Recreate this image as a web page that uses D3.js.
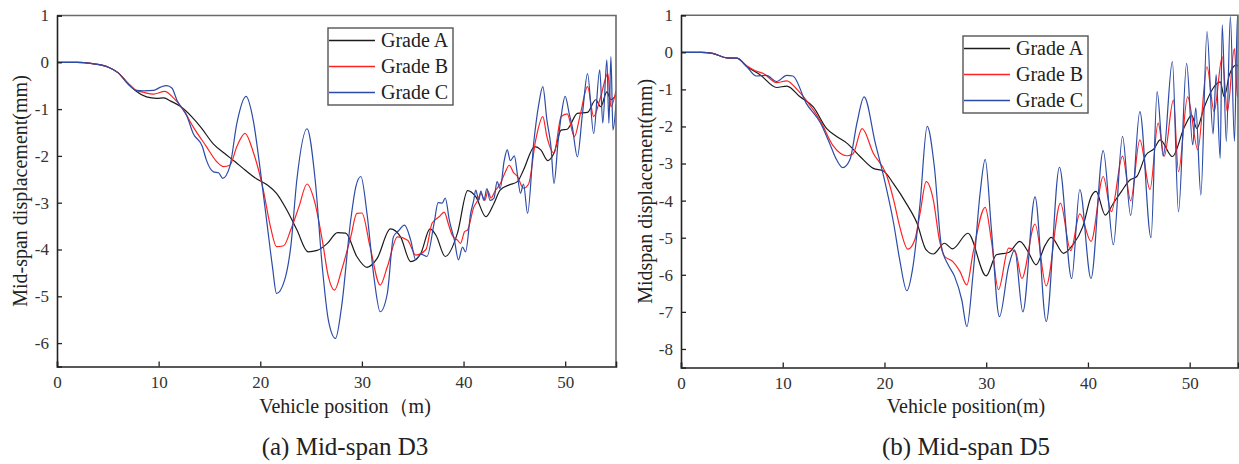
<!DOCTYPE html>
<html>
<head>
<meta charset="utf-8">
<script src="https://cdn.jsdelivr.net/npm/d3@7"></script>
<style>
  body { margin: 0; background: #fff; }
  svg { display: block; font-family: "Liberation Serif", "Times New Roman", serif; }
</style>
</head>
<body>
<svg id="chart" width="1239" height="464"></svg>
<script>
const seriesNames = ["Grade A", "Grade B", "Grade C"];
const seriesColors = ["#1a1a1a", "#ff2222", "#2b4ba6"];

// (a) mid-span D3, [vehicle position m, displacement mm]
const d3GradeA = [[0,0],[2,0],[3.5,-0.03],[5,-0.1],[6,-0.22],[7,-0.45],[7.8,-0.62],[8.8,-0.74],[9.8,-0.77],[10.5,-0.76],[11.2,-0.83],[12.2,-0.95],[13.2,-1.15],[14.2,-1.4],[15.4,-1.75],[16.5,-1.95],[17.5,-2.12],[18.5,-2.3],[19.7,-2.5],[20.7,-2.62],[21.6,-2.8],[22.6,-3.15],[23.6,-3.58],[24.7,-4.05],[25.6,-4.02],[26.6,-3.87],[27.6,-3.64],[28.4,-3.65],[29.5,-4.15],[30.5,-4.38],[31.5,-4.19],[32.8,-3.56],[33.8,-3.73],[34.8,-4.26],[35.8,-4.08],[36.7,-3.56],[37.3,-3.7],[38.2,-4.15],[39.4,-3.65],[40.4,-2.74],[41.2,-2.87],[42.2,-3.3],[43,-3.01],[43.6,-2.73],[44.5,-2.62],[45.3,-2.55],[45.9,-2.3],[47,-1.8],[47.6,-1.87],[48.3,-2.1],[48.9,-1.94],[49.6,-1.45],[50.2,-1.43],[51.2,-1.09],[52.2,-1.07],[53,-0.8],[53.5,-0.95],[54.1,-0.63],[54.5,-0.8],[55,-0.7]];
const d3GradeB = [[0,0],[2,0],[3.5,-0.03],[5,-0.1],[6,-0.22],[7,-0.45],[7.8,-0.6],[8.5,-0.64],[9.5,-0.68],[10.6,-0.62],[11.5,-0.77],[12.4,-1.0],[13.4,-1.38],[14.7,-1.8],[15.7,-2.12],[16.4,-2.23],[17,-2.2],[17.7,-1.8],[18.5,-1.52],[19.3,-1.91],[20.3,-2.73],[21,-3.51],[21.6,-3.94],[22.3,-3.92],[23,-3.58],[23.8,-3.09],[24.6,-2.6],[25.3,-2.94],[26.1,-3.8],[26.7,-4.58],[27.3,-4.87],[28,-4.44],[28.9,-3.73],[29.5,-3.23],[30,-3.22],[30.8,-3.94],[31.8,-4.76],[32.5,-4.37],[33.5,-3.73],[34.5,-3.8],[35.3,-4.12],[36.3,-4.0],[36.9,-3.44],[37.6,-3.3],[38.1,-3.2],[38.5,-3.45],[38.9,-3.7],[39.4,-3.8],[39.7,-3.87],[40.1,-3.62],[40.4,-3.58],[41,-3.1],[41.4,-2.95],[41.7,-2.8],[42.1,-2.95],[42.4,-2.75],[42.7,-2.9],[43.1,-2.75],[43.6,-2.6],[44.1,-2.35],[44.5,-2.2],[44.9,-2.35],[45.3,-2.44],[45.9,-2.69],[46.4,-2.6],[47.1,-1.66],[47.8,-1.16],[48.2,-1.59],[48.9,-1.94],[49.6,-1.16],[50.2,-1.1],[50.9,-1.59],[51.5,-1.1],[52.2,-0.52],[52.8,-1.16],[53.5,-0.73],[54.2,-0.24],[54.5,-0.95],[55,-0.6]];
const d3GradeC = [[0,0],[2,0],[3.5,-0.03],[5,-0.1],[6,-0.22],[7,-0.47],[7.8,-0.6],[8.5,-0.61],[9.5,-0.6],[10.2,-0.53],[10.8,-0.5],[11.3,-0.55],[11.8,-0.81],[12.8,-1.16],[13.4,-1.52],[14.3,-1.8],[14.7,-2.09],[15.4,-2.34],[15.9,-2.36],[16.3,-2.48],[17,-2.23],[17.7,-1.3],[18.6,-0.73],[19.3,-1.23],[20,-2.3],[20.7,-3.51],[21.2,-4.37],[21.6,-4.94],[22.4,-4.65],[23,-3.94],[23.6,-2.51],[24.6,-1.42],[25.4,-2.51],[26.1,-4.37],[26.7,-5.51],[27.4,-5.9],[28,-5.22],[28.9,-3.37],[29.4,-2.66],[29.9,-2.44],[30.5,-3.23],[31.2,-4.62],[31.8,-5.33],[32.5,-4.94],[33.1,-3.73],[33.6,-3.6],[34.2,-3.48],[34.8,-3.8],[35.3,-4.22],[35.8,-4.1],[36.4,-4.15],[37.1,-3.44],[37.5,-3.0],[37.9,-3.01],[38.2,-2.9],[38.6,-3.37],[39.1,-3.8],[39.5,-4.22],[39.9,-3.95],[40.2,-4.05],[40.7,-3.23],[41.0,-2.95],[41.2,-2.73],[41.5,-2.95],[41.7,-2.75],[42.0,-2.95],[42.3,-2.7],[42.6,-2.95],[43,-2.9],[43.3,-2.55],[43.6,-2.7],[44.0,-2.1],[44.3,-1.87],[44.6,-2.1],[45,-2.0],[45.3,-2.4],[45.6,-2.8],[45.9,-2.6],[46.3,-3.23],[46.9,-1.73],[47.4,-0.9],[47.8,-0.52],[48.2,-1.23],[48.6,-1.8],[48.9,-2.59],[49.3,-1.7],[49.6,-1.16],[50,-0.73],[50.4,-1.1],[50.7,-1.38],[51.2,-2.02],[51.7,-1.1],[52.2,-0.24],[52.8,-1.52],[53.4,-0.16],[53.7,-1.3],[54.1,0.05],[54.3,-1.3],[54.5,0.12],[54.7,-1.45],[55,-0.9]];

// (b) mid-span D5
const d5GradeA = [[0,0],[2,0],[3.1,-0.03],[4.5,-0.15],[5.5,-0.16],[6.5,-0.39],[7.8,-0.61],[9.4,-0.95],[10.4,-0.91],[11.7,-1.2],[13,-1.47],[14.3,-2.05],[15.3,-2.27],[16.3,-2.45],[17.6,-2.81],[18.9,-3.13],[19.9,-3.2],[20.9,-3.55],[22.2,-4.1],[23.2,-4.61],[24.1,-5.33],[24.8,-5.44],[25.9,-5.15],[26.7,-5.3],[28.2,-4.88],[30,-6.03],[31,-5.46],[32.2,-5.4],[33.3,-5.1],[34.1,-5.37],[34.9,-5.73],[35.8,-5.2],[36.4,-4.99],[37.6,-5.42],[38.5,-5.2],[39.5,-4.7],[40.3,-3.9],[40.8,-3.75],[41.7,-4.39],[42.5,-4.07],[43.3,-3.75],[44.1,-3.45],[44.8,-3.35],[45.7,-2.77],[46.5,-2.6],[47.1,-2.36],[48.3,-2.81],[49.5,-2.0],[50.2,-1.7],[50.7,-2.05],[51.4,-1.5],[52.3,-0.97],[53,-0.8],[53.4,-1.2],[53.9,-0.61],[54.6,-0.34],[55,-0.5]];
const d5GradeB = [[0,0],[2,0],[3.1,-0.03],[4.5,-0.15],[5.5,-0.16],[6.5,-0.37],[7.3,-0.5],[8.1,-0.57],[9.4,-0.82],[10.4,-0.77],[11.4,-1.0],[12.3,-1.29],[13.7,-1.85],[15,-2.54],[16.3,-2.79],[16.9,-2.74],[17.8,-2.06],[18.9,-2.72],[20.2,-3.31],[20.9,-3.98],[21.5,-4.7],[22.3,-5.31],[23,-5.04],[23.5,-4.34],[24.1,-3.49],[24.8,-3.98],[25.4,-5.06],[25.9,-5.5],[26.7,-5.64],[27.4,-5.9],[28.1,-6.27],[28.7,-5.42],[29.9,-4.18],[30.5,-5.06],[31.2,-6.4],[32.2,-5.28],[32.9,-5.4],[33.5,-6.1],[34.8,-4.63],[35.9,-6.3],[37.3,-4.07],[38.3,-5.35],[39.2,-4.36],[40.3,-5.1],[41.5,-3.35],[42.3,-4.3],[43.4,-2.8],[44.2,-4.0],[45.1,-2.36],[46.1,-3.7],[46.9,-1.91],[47.5,-2.8],[48.4,-1.29],[48.9,-3.22],[49.8,-1.2],[50.8,-2.63],[51.7,-0.39],[52.4,-1.6],[53.2,-0.12],[53.7,-1.6],[54.4,0.1],[54.7,-1.2],[55,-0.5]];
const d5GradeC = [[0,0],[2,0],[3.1,-0.03],[4.5,-0.15],[5.5,-0.16],[6.5,-0.4],[7.4,-0.64],[8.4,-0.62],[9.4,-0.79],[10.4,-0.62],[11,-0.64],[12.3,-1.37],[13.7,-1.9],[14.6,-2.45],[15.3,-2.9],[15.9,-3.11],[16.6,-2.9],[17.3,-1.9],[18,-1.2],[19.1,-2.45],[20,-3.44],[20.9,-4.61],[21.5,-5.6],[22.2,-6.43],[22.8,-5.78],[23.5,-4.07],[24.2,-2.0],[24.9,-3.08],[25.6,-5.24],[26.3,-5.75],[26.9,-6.05],[27.6,-6.68],[28.1,-7.4],[28.7,-6.0],[29.4,-3.8],[29.9,-2.89],[30.5,-4.73],[31.3,-7.13],[32.2,-5.78],[32.8,-5.33],[33.6,-7.0],[34.8,-3.9],[35.9,-7.26],[37.2,-3.1],[38.4,-6.1],[39.2,-3.7],[40.3,-6.1],[41.5,-2.65],[42.5,-5.19],[43.4,-2.27],[44.2,-4.4],[45.1,-1.6],[46.2,-5.0],[46.8,-1.06],[47.4,-2.8],[48.3,-0.25],[48.9,-4.3],[49.7,-0.3],[50.3,-2.5],[50.6,-1.5],[51.1,-3.85],[51.7,0.56],[52.3,-2.2],[52.6,-0.6],[53,-2.86],[53.2,0.74],[53.6,-2.41],[54.0,0.96],[54.4,-2.4],[54.7,1.0],[55,-1.0]];

const xTicks = [0, 10, 20, 30, 40, 50];
const yTicksA = [1, 0, -1, -2, -3, -4, -5, -6];
const yTicksB = [1, 0, -1, -2, -3, -4, -5, -6, -7, -8];

const svg = d3.select("#chart");

function drawPanel(cfg) {
  const x = d3.scaleLinear().domain(cfg.xDomain).range([cfg.left, cfg.right]);
  const y = d3.scaleLinear().domain(cfg.yDomain).range([cfg.bottom, cfg.top]);
  const g = svg.append("g");

  const clipId = "clip-" + cfg.id;
  g.append("clipPath").attr("id", clipId)
    .append("rect")
    .attr("x", cfg.left).attr("y", cfg.top)
    .attr("width", cfg.right - cfg.left).attr("height", cfg.bottom - cfg.top);

  const line = d3.line()
    .x(d => x(d[0]))
    .y(d => y(d[1]))
    .curve(d3.curveMonotoneX);

  g.append("g").attr("clip-path", `url(#${clipId})`)
    .selectAll("path")
    .data(cfg.series)
    .join("path")
    .attr("d", d => line(d))
    .attr("fill", "none")
    .attr("stroke", (d, i) => seriesColors[i])
    .attr("stroke-width", 1.2)
    .attr("stroke-linejoin", "round");

  // frame (top/right)
  g.append("path")
    .attr("d", `M${cfg.left},${cfg.top}H${cfg.right}V${cfg.bottom}`)
    .attr("fill", "none").attr("stroke", "#6a6a6a").attr("stroke-width", 1.6);

  const xAxis = g.append("g")
    .attr("transform", `translate(0,${cfg.bottom})`)
    .call(d3.axisBottom(x).tickValues(xTicks).tickSize(-5).tickPadding(9));
  const yAxis = g.append("g")
    .attr("transform", `translate(${cfg.left},0)`)
    .call(d3.axisLeft(y).tickValues(cfg.yTicks).tickSize(-5).tickPadding(8)
      .tickFormat(d3.format("d")));

  [xAxis, yAxis].forEach(a => {
    a.select(".domain").attr("stroke", "#222").attr("stroke-width", 1.6);
    a.selectAll(".tick line").attr("stroke", "#222").attr("stroke-width", 1.3);
    a.selectAll(".tick text")
      .attr("fill", "#333")
      .style("font-family", "Liberation Serif")
      .style("font-size", "17px");
  });
  xAxis.selectAll(".tick text").attr("dy", "0.75em");
  yAxis.selectAll(".tick text").text(d => d3.format("d")(d).replace("−", "-"));

  // y title
  g.append("text")
    .attr("transform", `translate(${cfg.yTitleX},${(cfg.top + cfg.bottom) / 2}) rotate(-90)`)
    .attr("text-anchor", "middle")
    .attr("fill", "#222")
    .style("font-size", "20px")
    .text(cfg.yTitle);

  // x title
  g.append("text")
    .attr("x", cfg.xTitleX).attr("y", 413)
    .attr("text-anchor", "middle")
    .attr("fill", "#222")
    .style("font-size", "20px")
    .text(cfg.xTitle);

  // caption
  g.append("text")
    .attr("x", cfg.captionX).attr("y", 455)
    .attr("text-anchor", "middle")
    .attr("fill", "#222")
    .style("font-size", "25px")
    .text(cfg.caption);

  // legend
  const lg = g.append("g").attr("transform", `translate(${cfg.legendX},${cfg.legendY})`);
  lg.append("rect")
    .attr("width", cfg.legendW).attr("height", 77)
    .attr("fill", "#fff").attr("stroke", "#555").attr("stroke-width", 1.4);
  const rows = lg.selectAll("g.row").data(seriesNames).join("g")
    .attr("class", "row")
    .attr("transform", (d, i) => `translate(0,${12.5 + i * 26})`);
  rows.append("line")
    .attr("x1", 1).attr("x2", 47)
    .attr("stroke", (d, i) => seriesColors[i]).attr("stroke-width", 1.3);
  rows.append("text")
    .attr("x", 53).attr("y", 6.5)
    .attr("fill", "#222")
    .style("font-size", "20px")
    .text(d => d);
}

drawPanel({
  id: "a",
  left: 57, right: 616, top: 15.5, bottom: 366.5,
  xDomain: [0, 55], yDomain: [-6.5, 1], yTicks: yTicksA,
  series: [d3GradeA, d3GradeB, d3GradeC],
  yTitle: "Mid-span displacement(mm)", yTitleX: 27,
  xTitle: "Vehicle position\uFF08m)", xTitleX: 345,
  caption: "(a) Mid-span D3", captionX: 345,
  legendX: 328, legendY: 28, legendW: 125
});

drawPanel({
  id: "b",
  left: 681, right: 1238, top: 15.2, bottom: 367.5,
  xDomain: [0, 54.75], yDomain: [-8.5, 1], yTicks: yTicksB,
  series: [d5GradeA, d5GradeB, d5GradeC],
  yTitle: "Midspan displacement(mm)", yTitleX: 652,
  xTitle: "Vehicle position(m)", xTitleX: 966,
  caption: "(b) Mid-span D5", captionX: 966,
  legendX: 963, legendY: 36, legendW: 125
});
</script>
</body>
</html>
